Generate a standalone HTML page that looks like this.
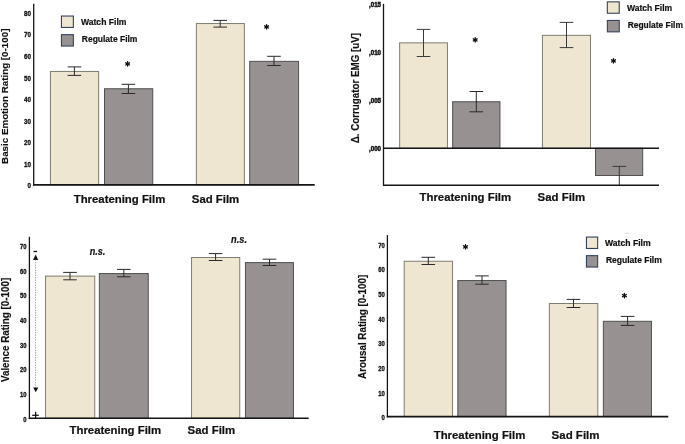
<!DOCTYPE html>
<html><head><meta charset="utf-8"><style>
html,body{margin:0;padding:0;background:#fff;}
body{width:685px;height:444px;overflow:hidden;}
svg{display:block;font-family:"Liberation Sans",sans-serif;-webkit-font-smoothing:antialiased;will-change:transform;filter:blur(0.35px);}
</style></head><body>
<svg width="685" height="444" viewBox="0 0 685 444">
<rect x="0" y="0" width="685" height="444" fill="#fff"/>
<text x="27.60" y="188.41" font-size="7.0" font-weight="bold" font-style="normal" fill="#111" text-anchor="start" textLength="3.50" lengthAdjust="spacingAndGlyphs" stroke="#111" stroke-width="0.3">0</text>
<text x="24.10" y="166.85" font-size="7.0" font-weight="bold" font-style="normal" fill="#111" text-anchor="start" textLength="7.00" lengthAdjust="spacingAndGlyphs" stroke="#111" stroke-width="0.3">10</text>
<text x="24.10" y="145.29" font-size="7.0" font-weight="bold" font-style="normal" fill="#111" text-anchor="start" textLength="7.00" lengthAdjust="spacingAndGlyphs" stroke="#111" stroke-width="0.3">20</text>
<text x="24.10" y="123.73" font-size="7.0" font-weight="bold" font-style="normal" fill="#111" text-anchor="start" textLength="7.00" lengthAdjust="spacingAndGlyphs" stroke="#111" stroke-width="0.3">30</text>
<text x="24.10" y="102.17" font-size="7.0" font-weight="bold" font-style="normal" fill="#111" text-anchor="start" textLength="7.00" lengthAdjust="spacingAndGlyphs" stroke="#111" stroke-width="0.3">40</text>
<text x="24.10" y="80.61" font-size="7.0" font-weight="bold" font-style="normal" fill="#111" text-anchor="start" textLength="7.00" lengthAdjust="spacingAndGlyphs" stroke="#111" stroke-width="0.3">50</text>
<text x="24.10" y="59.05" font-size="7.0" font-weight="bold" font-style="normal" fill="#111" text-anchor="start" textLength="7.00" lengthAdjust="spacingAndGlyphs" stroke="#111" stroke-width="0.3">60</text>
<text x="24.10" y="37.49" font-size="7.0" font-weight="bold" font-style="normal" fill="#111" text-anchor="start" textLength="7.00" lengthAdjust="spacingAndGlyphs" stroke="#111" stroke-width="0.3">70</text>
<text x="24.10" y="15.93" font-size="7.0" font-weight="bold" font-style="normal" fill="#111" text-anchor="start" textLength="7.00" lengthAdjust="spacingAndGlyphs" stroke="#111" stroke-width="0.3">80</text>
<line x1="33.70" y1="3.80" x2="33.70" y2="185.60" stroke="#151515" stroke-width="1.3"/>
<rect x="50.45" y="71.45" width="48.20" height="113.35" fill="#eee6d0" stroke="#7f7c70" stroke-width="1.0"/>
<rect x="104.50" y="88.75" width="48.25" height="96.05" fill="#979191" stroke="#505050" stroke-width="1.0"/>
<rect x="196.35" y="23.55" width="48.00" height="161.25" fill="#eee6d0" stroke="#7f7c70" stroke-width="1.0"/>
<rect x="249.70" y="61.35" width="48.85" height="123.45" fill="#979191" stroke="#505050" stroke-width="1.0"/>
<line x1="74.40" y1="66.90" x2="74.40" y2="75.40" stroke="#2a2a2a" stroke-width="1.0"/>
<line x1="67.60" y1="66.90" x2="81.20" y2="66.90" stroke="#2a2a2a" stroke-width="1.0"/>
<line x1="67.60" y1="75.40" x2="81.20" y2="75.40" stroke="#2a2a2a" stroke-width="1.0"/>
<line x1="128.40" y1="84.30" x2="128.40" y2="93.50" stroke="#2a2a2a" stroke-width="1.0"/>
<line x1="121.60" y1="84.30" x2="135.20" y2="84.30" stroke="#2a2a2a" stroke-width="1.0"/>
<line x1="121.60" y1="93.50" x2="135.20" y2="93.50" stroke="#2a2a2a" stroke-width="1.0"/>
<line x1="220.20" y1="20.40" x2="220.20" y2="27.10" stroke="#2a2a2a" stroke-width="1.0"/>
<line x1="213.40" y1="20.40" x2="227.00" y2="20.40" stroke="#2a2a2a" stroke-width="1.0"/>
<line x1="213.40" y1="27.10" x2="227.00" y2="27.10" stroke="#2a2a2a" stroke-width="1.0"/>
<line x1="274.00" y1="56.30" x2="274.00" y2="65.50" stroke="#2a2a2a" stroke-width="1.0"/>
<line x1="267.20" y1="56.30" x2="280.80" y2="56.30" stroke="#2a2a2a" stroke-width="1.0"/>
<line x1="267.20" y1="65.50" x2="280.80" y2="65.50" stroke="#2a2a2a" stroke-width="1.0"/>
<line x1="33.00" y1="184.80" x2="314.70" y2="184.80" stroke="#151515" stroke-width="1.7"/>
<line x1="127.60" y1="61.70" x2="127.60" y2="66.10" stroke="#111" stroke-width="1.35" stroke-linecap="round"/>
<line x1="125.69" y1="62.80" x2="129.51" y2="65.00" stroke="#111" stroke-width="1.35" stroke-linecap="round"/>
<line x1="125.69" y1="65.00" x2="129.51" y2="62.80" stroke="#111" stroke-width="1.35" stroke-linecap="round"/>
<line x1="266.60" y1="24.70" x2="266.60" y2="29.10" stroke="#111" stroke-width="1.35" stroke-linecap="round"/>
<line x1="264.69" y1="25.80" x2="268.51" y2="28.00" stroke="#111" stroke-width="1.35" stroke-linecap="round"/>
<line x1="264.69" y1="28.00" x2="268.51" y2="25.80" stroke="#111" stroke-width="1.35" stroke-linecap="round"/>
<rect x="61.45" y="16.05" width="11.90" height="11.40" fill="#eee6d0" stroke="#394160" stroke-width="1.1"/>
<rect x="61.45" y="34.65" width="11.90" height="11.40" fill="#979191" stroke="#394160" stroke-width="1.1"/>
<text x="80.90" y="24.80" font-size="8.5" font-weight="bold" font-style="normal" fill="#111" text-anchor="start" textLength="45.60" lengthAdjust="spacingAndGlyphs" stroke="#111" stroke-width="0.2">Watch Film</text>
<text x="81.80" y="42.30" font-size="8.5" font-weight="bold" font-style="normal" fill="#111" text-anchor="start" textLength="55.60" lengthAdjust="spacingAndGlyphs" stroke="#111" stroke-width="0.2">Regulate Film</text>
<text x="73.70" y="203.40" font-size="11.3" font-weight="bold" font-style="normal" fill="#111" text-anchor="start" textLength="91.60" lengthAdjust="spacingAndGlyphs" stroke="#111" stroke-width="0.2">Threatening Film</text>
<text x="191.80" y="203.40" font-size="11.3" font-weight="bold" font-style="normal" fill="#111" text-anchor="start" textLength="47.40" lengthAdjust="spacingAndGlyphs" stroke="#111" stroke-width="0.2">Sad Film</text>
<text transform="translate(8.30,163.90) rotate(-90)" x="0" y="0" font-size="9.9" font-weight="bold" fill="#111" stroke="#111" stroke-width="0.15" textLength="135.30" lengthAdjust="spacingAndGlyphs">Basic Emotion Rating [0-100]</text>
<text x="369.00" y="151.36" font-size="6.3" font-weight="bold" font-style="normal" fill="#111" text-anchor="start" textLength="12.00" lengthAdjust="spacingAndGlyphs" stroke="#111" stroke-width="0.45">,000</text>
<text x="369.00" y="103.16" font-size="6.3" font-weight="bold" font-style="normal" fill="#111" text-anchor="start" textLength="12.00" lengthAdjust="spacingAndGlyphs" stroke="#111" stroke-width="0.45">,005</text>
<text x="369.00" y="54.96" font-size="6.3" font-weight="bold" font-style="normal" fill="#111" text-anchor="start" textLength="12.00" lengthAdjust="spacingAndGlyphs" stroke="#111" stroke-width="0.45">,010</text>
<text x="369.00" y="6.76" font-size="6.3" font-weight="bold" font-style="normal" fill="#111" text-anchor="start" textLength="12.00" lengthAdjust="spacingAndGlyphs" stroke="#111" stroke-width="0.45">,015</text>
<line x1="383.50" y1="3.80" x2="383.50" y2="185.90" stroke="#151515" stroke-width="1.3"/>
<rect x="399.65" y="42.85" width="47.80" height="105.45" fill="#eee6d0" stroke="#7f7c70" stroke-width="1.0"/>
<rect x="452.65" y="101.75" width="47.30" height="46.55" fill="#979191" stroke="#505050" stroke-width="1.0"/>
<rect x="542.45" y="35.35" width="48.05" height="112.95" fill="#eee6d0" stroke="#7f7c70" stroke-width="1.0"/>
<rect x="595.5" y="148.30" width="47.2" height="27.20" fill="#979191" stroke="#505050" stroke-width="1"/>
<line x1="423.50" y1="29.40" x2="423.50" y2="56.50" stroke="#3a3a3a" stroke-width="1.0"/>
<line x1="416.70" y1="29.40" x2="430.30" y2="29.40" stroke="#3a3a3a" stroke-width="1.0"/>
<line x1="416.70" y1="56.50" x2="430.30" y2="56.50" stroke="#3a3a3a" stroke-width="1.0"/>
<line x1="476.30" y1="91.50" x2="476.30" y2="111.80" stroke="#2a2a2a" stroke-width="1.0"/>
<line x1="469.50" y1="91.50" x2="483.10" y2="91.50" stroke="#2a2a2a" stroke-width="1.0"/>
<line x1="469.50" y1="111.80" x2="483.10" y2="111.80" stroke="#2a2a2a" stroke-width="1.0"/>
<line x1="566.50" y1="22.40" x2="566.50" y2="47.60" stroke="#3a3a3a" stroke-width="1.0"/>
<line x1="559.70" y1="22.40" x2="573.30" y2="22.40" stroke="#3a3a3a" stroke-width="1.0"/>
<line x1="559.70" y1="47.60" x2="573.30" y2="47.60" stroke="#3a3a3a" stroke-width="1.0"/>
<line x1="619.30" y1="166.40" x2="619.30" y2="185.20" stroke="#3a3a3a" stroke-width="1.0"/>
<line x1="612.50" y1="166.40" x2="626.10" y2="166.40" stroke="#3a3a3a" stroke-width="1.0"/>
<line x1="383.00" y1="148.30" x2="659.00" y2="148.30" stroke="#151515" stroke-width="1.6"/>
<line x1="383.00" y1="185.30" x2="659.00" y2="185.30" stroke="#151515" stroke-width="1.5"/>
<line x1="475.20" y1="37.70" x2="475.20" y2="42.10" stroke="#111" stroke-width="1.35" stroke-linecap="round"/>
<line x1="473.29" y1="38.80" x2="477.11" y2="41.00" stroke="#111" stroke-width="1.35" stroke-linecap="round"/>
<line x1="473.29" y1="41.00" x2="477.11" y2="38.80" stroke="#111" stroke-width="1.35" stroke-linecap="round"/>
<line x1="613.50" y1="58.70" x2="613.50" y2="63.10" stroke="#111" stroke-width="1.35" stroke-linecap="round"/>
<line x1="611.59" y1="59.80" x2="615.41" y2="62.00" stroke="#111" stroke-width="1.35" stroke-linecap="round"/>
<line x1="611.59" y1="62.00" x2="615.41" y2="59.80" stroke="#111" stroke-width="1.35" stroke-linecap="round"/>
<rect x="607.35" y="1.85" width="11.90" height="11.40" fill="#eee6d0" stroke="#394160" stroke-width="1.1"/>
<rect x="607.35" y="20.45" width="11.90" height="11.40" fill="#979191" stroke="#394160" stroke-width="1.1"/>
<text x="626.90" y="10.60" font-size="8.5" font-weight="bold" font-style="normal" fill="#111" text-anchor="start" textLength="45.30" lengthAdjust="spacingAndGlyphs" stroke="#111" stroke-width="0.2">Watch Film</text>
<text x="627.70" y="27.60" font-size="8.5" font-weight="bold" font-style="normal" fill="#111" text-anchor="start" textLength="55.20" lengthAdjust="spacingAndGlyphs" stroke="#111" stroke-width="0.2">Regulate Film</text>
<text x="419.50" y="201.00" font-size="11.3" font-weight="bold" font-style="normal" fill="#111" text-anchor="start" textLength="91.60" lengthAdjust="spacingAndGlyphs" stroke="#111" stroke-width="0.2">Threatening Film</text>
<text x="537.60" y="201.00" font-size="11.3" font-weight="bold" font-style="normal" fill="#111" text-anchor="start" textLength="47.60" lengthAdjust="spacingAndGlyphs" stroke="#111" stroke-width="0.2">Sad Film</text>
<text transform="translate(358.80,143.30) rotate(-90)" x="0" y="0" font-size="10.1" font-weight="bold" fill="#111" stroke="#111" stroke-width="0.15" textLength="110.30" lengthAdjust="spacingAndGlyphs">Δ. Corrugator EMG [uV]</text>
<text x="23.15" y="421.83" font-size="6.8" font-weight="bold" font-style="normal" fill="#111" text-anchor="start" textLength="3.25" lengthAdjust="spacingAndGlyphs" stroke="#111" stroke-width="0.3">0</text>
<text x="19.90" y="397.13" font-size="6.8" font-weight="bold" font-style="normal" fill="#111" text-anchor="start" textLength="6.50" lengthAdjust="spacingAndGlyphs" stroke="#111" stroke-width="0.3">10</text>
<text x="19.90" y="372.43" font-size="6.8" font-weight="bold" font-style="normal" fill="#111" text-anchor="start" textLength="6.50" lengthAdjust="spacingAndGlyphs" stroke="#111" stroke-width="0.3">20</text>
<text x="19.90" y="347.73" font-size="6.8" font-weight="bold" font-style="normal" fill="#111" text-anchor="start" textLength="6.50" lengthAdjust="spacingAndGlyphs" stroke="#111" stroke-width="0.3">30</text>
<text x="19.90" y="323.03" font-size="6.8" font-weight="bold" font-style="normal" fill="#111" text-anchor="start" textLength="6.50" lengthAdjust="spacingAndGlyphs" stroke="#111" stroke-width="0.3">40</text>
<text x="19.90" y="298.33" font-size="6.8" font-weight="bold" font-style="normal" fill="#111" text-anchor="start" textLength="6.50" lengthAdjust="spacingAndGlyphs" stroke="#111" stroke-width="0.3">50</text>
<text x="19.90" y="273.63" font-size="6.8" font-weight="bold" font-style="normal" fill="#111" text-anchor="start" textLength="6.50" lengthAdjust="spacingAndGlyphs" stroke="#111" stroke-width="0.3">60</text>
<text x="19.90" y="248.93" font-size="6.8" font-weight="bold" font-style="normal" fill="#111" text-anchor="start" textLength="6.50" lengthAdjust="spacingAndGlyphs" stroke="#111" stroke-width="0.3">70</text>
<line x1="29.40" y1="236.80" x2="29.40" y2="419.00" stroke="#151515" stroke-width="1.3"/>
<rect x="45.55" y="276.10" width="49.20" height="142.10" fill="#eee6d0" stroke="#7f7c70" stroke-width="1.0"/>
<rect x="99.35" y="273.55" width="48.90" height="144.65" fill="#979191" stroke="#505050" stroke-width="1.0"/>
<rect x="191.55" y="257.50" width="48.20" height="160.70" fill="#eee6d0" stroke="#7f7c70" stroke-width="1.0"/>
<rect x="245.45" y="262.60" width="48.00" height="155.60" fill="#979191" stroke="#505050" stroke-width="1.0"/>
<line x1="70.00" y1="272.40" x2="70.00" y2="279.80" stroke="#2a2a2a" stroke-width="1.0"/>
<line x1="63.20" y1="272.40" x2="76.80" y2="272.40" stroke="#2a2a2a" stroke-width="1.0"/>
<line x1="63.20" y1="279.80" x2="76.80" y2="279.80" stroke="#2a2a2a" stroke-width="1.0"/>
<line x1="123.80" y1="269.40" x2="123.80" y2="276.80" stroke="#2a2a2a" stroke-width="1.0"/>
<line x1="117.00" y1="269.40" x2="130.60" y2="269.40" stroke="#2a2a2a" stroke-width="1.0"/>
<line x1="117.00" y1="276.80" x2="130.60" y2="276.80" stroke="#2a2a2a" stroke-width="1.0"/>
<line x1="215.60" y1="253.60" x2="215.60" y2="260.50" stroke="#2a2a2a" stroke-width="1.0"/>
<line x1="208.80" y1="253.60" x2="222.40" y2="253.60" stroke="#2a2a2a" stroke-width="1.0"/>
<line x1="208.80" y1="260.50" x2="222.40" y2="260.50" stroke="#2a2a2a" stroke-width="1.0"/>
<line x1="269.50" y1="259.20" x2="269.50" y2="265.50" stroke="#2a2a2a" stroke-width="1.0"/>
<line x1="262.70" y1="259.20" x2="276.30" y2="259.20" stroke="#2a2a2a" stroke-width="1.0"/>
<line x1="262.70" y1="265.50" x2="276.30" y2="265.50" stroke="#2a2a2a" stroke-width="1.0"/>
<line x1="28.80" y1="418.20" x2="308.70" y2="418.20" stroke="#151515" stroke-width="1.6"/>
<text x="89.70" y="254.50" font-size="10.0" font-weight="bold" font-style="italic" fill="#111" text-anchor="start" textLength="15.50" lengthAdjust="spacingAndGlyphs" stroke="#111" stroke-width="0.2">n.s.</text>
<text x="231.10" y="242.50" font-size="10.0" font-weight="bold" font-style="italic" fill="#111" text-anchor="start" textLength="15.90" lengthAdjust="spacingAndGlyphs" stroke="#111" stroke-width="0.2">n.s.</text>
<line x1="33.50" y1="251.50" x2="37.10" y2="251.50" stroke="#111" stroke-width="1.3"/>
<polygon points="35.65,254.5 33.0,259.9 38.3,259.9" fill="#111"/>
<line x1="35.55" y1="259.6" x2="35.55" y2="387.8" stroke="#8f8f8f" stroke-width="0.9" stroke-dasharray="1.25 1.25"/>
<polygon points="33.2,387.5 38.3,387.5 35.75,392.3" fill="#111"/>
<line x1="32.20" y1="415.30" x2="38.80" y2="415.30" stroke="#111" stroke-width="1.25"/>
<line x1="35.60" y1="411.90" x2="35.60" y2="418.20" stroke="#111" stroke-width="1.25"/>
<text x="69.50" y="433.50" font-size="11.3" font-weight="bold" font-style="normal" fill="#111" text-anchor="start" textLength="91.60" lengthAdjust="spacingAndGlyphs" stroke="#111" stroke-width="0.2">Threatening Film</text>
<text x="187.60" y="433.50" font-size="11.3" font-weight="bold" font-style="normal" fill="#111" text-anchor="start" textLength="47.60" lengthAdjust="spacingAndGlyphs" stroke="#111" stroke-width="0.2">Sad Film</text>
<text transform="translate(8.80,382.10) rotate(-90)" x="0" y="0" font-size="10.4" font-weight="bold" fill="#111" stroke="#111" stroke-width="0.15" textLength="104.40" lengthAdjust="spacingAndGlyphs">Valence Rating [0-100]</text>
<text x="381.60" y="420.46" font-size="7.0" font-weight="bold" font-style="normal" fill="#111" text-anchor="start" textLength="3.30" lengthAdjust="spacingAndGlyphs" stroke="#111" stroke-width="0.3">0</text>
<text x="378.30" y="395.76" font-size="7.0" font-weight="bold" font-style="normal" fill="#111" text-anchor="start" textLength="6.60" lengthAdjust="spacingAndGlyphs" stroke="#111" stroke-width="0.3">10</text>
<text x="378.30" y="371.06" font-size="7.0" font-weight="bold" font-style="normal" fill="#111" text-anchor="start" textLength="6.60" lengthAdjust="spacingAndGlyphs" stroke="#111" stroke-width="0.3">20</text>
<text x="378.30" y="346.36" font-size="7.0" font-weight="bold" font-style="normal" fill="#111" text-anchor="start" textLength="6.60" lengthAdjust="spacingAndGlyphs" stroke="#111" stroke-width="0.3">30</text>
<text x="378.30" y="321.66" font-size="7.0" font-weight="bold" font-style="normal" fill="#111" text-anchor="start" textLength="6.60" lengthAdjust="spacingAndGlyphs" stroke="#111" stroke-width="0.3">40</text>
<text x="378.30" y="296.96" font-size="7.0" font-weight="bold" font-style="normal" fill="#111" text-anchor="start" textLength="6.60" lengthAdjust="spacingAndGlyphs" stroke="#111" stroke-width="0.3">50</text>
<text x="378.30" y="272.26" font-size="7.0" font-weight="bold" font-style="normal" fill="#111" text-anchor="start" textLength="6.60" lengthAdjust="spacingAndGlyphs" stroke="#111" stroke-width="0.3">60</text>
<text x="378.30" y="247.56" font-size="7.0" font-weight="bold" font-style="normal" fill="#111" text-anchor="start" textLength="6.60" lengthAdjust="spacingAndGlyphs" stroke="#111" stroke-width="0.3">70</text>
<line x1="387.40" y1="235.10" x2="387.40" y2="417.40" stroke="#151515" stroke-width="1.3"/>
<rect x="404.20" y="261.25" width="48.35" height="155.35" fill="#eee6d0" stroke="#7f7c70" stroke-width="1.0"/>
<rect x="457.85" y="280.55" width="48.20" height="136.05" fill="#979191" stroke="#505050" stroke-width="1.0"/>
<rect x="549.35" y="303.50" width="48.45" height="113.10" fill="#eee6d0" stroke="#7f7c70" stroke-width="1.0"/>
<rect x="603.35" y="321.30" width="48.10" height="95.30" fill="#979191" stroke="#505050" stroke-width="1.0"/>
<line x1="428.30" y1="257.30" x2="428.30" y2="264.50" stroke="#2a2a2a" stroke-width="1.0"/>
<line x1="421.50" y1="257.30" x2="435.10" y2="257.30" stroke="#2a2a2a" stroke-width="1.0"/>
<line x1="421.50" y1="264.50" x2="435.10" y2="264.50" stroke="#2a2a2a" stroke-width="1.0"/>
<line x1="482.00" y1="275.90" x2="482.00" y2="284.20" stroke="#2a2a2a" stroke-width="1.0"/>
<line x1="475.20" y1="275.90" x2="488.80" y2="275.90" stroke="#2a2a2a" stroke-width="1.0"/>
<line x1="475.20" y1="284.20" x2="488.80" y2="284.20" stroke="#2a2a2a" stroke-width="1.0"/>
<line x1="573.50" y1="299.40" x2="573.50" y2="307.50" stroke="#2a2a2a" stroke-width="1.0"/>
<line x1="566.70" y1="299.40" x2="580.30" y2="299.40" stroke="#2a2a2a" stroke-width="1.0"/>
<line x1="566.70" y1="307.50" x2="580.30" y2="307.50" stroke="#2a2a2a" stroke-width="1.0"/>
<line x1="627.60" y1="316.40" x2="627.60" y2="325.40" stroke="#2a2a2a" stroke-width="1.0"/>
<line x1="620.80" y1="316.40" x2="634.40" y2="316.40" stroke="#2a2a2a" stroke-width="1.0"/>
<line x1="620.80" y1="325.40" x2="634.40" y2="325.40" stroke="#2a2a2a" stroke-width="1.0"/>
<line x1="386.80" y1="416.60" x2="668.30" y2="416.60" stroke="#151515" stroke-width="1.6"/>
<line x1="465.50" y1="244.70" x2="465.50" y2="249.10" stroke="#111" stroke-width="1.35" stroke-linecap="round"/>
<line x1="463.59" y1="245.80" x2="467.41" y2="248.00" stroke="#111" stroke-width="1.35" stroke-linecap="round"/>
<line x1="463.59" y1="248.00" x2="467.41" y2="245.80" stroke="#111" stroke-width="1.35" stroke-linecap="round"/>
<line x1="624.40" y1="293.40" x2="624.40" y2="297.80" stroke="#111" stroke-width="1.35" stroke-linecap="round"/>
<line x1="622.49" y1="294.50" x2="626.31" y2="296.70" stroke="#111" stroke-width="1.35" stroke-linecap="round"/>
<line x1="622.49" y1="296.70" x2="626.31" y2="294.50" stroke="#111" stroke-width="1.35" stroke-linecap="round"/>
<line x1="624.70" y1="233.30" x2="629.00" y2="233.30" stroke="#cfcfcf" stroke-width="0.8"/>
<rect x="586.45" y="237.05" width="11.20" height="11.40" fill="#eee6d0" stroke="#394160" stroke-width="1.1"/>
<rect x="586.45" y="255.65" width="11.20" height="11.40" fill="#979191" stroke="#394160" stroke-width="1.1"/>
<text x="605.00" y="245.70" font-size="8.5" font-weight="bold" font-style="normal" fill="#111" text-anchor="start" textLength="45.60" lengthAdjust="spacingAndGlyphs" stroke="#111" stroke-width="0.2">Watch Film</text>
<text x="605.90" y="262.60" font-size="8.5" font-weight="bold" font-style="normal" fill="#111" text-anchor="start" textLength="55.90" lengthAdjust="spacingAndGlyphs" stroke="#111" stroke-width="0.2">Regulate Film</text>
<text x="433.70" y="439.40" font-size="11.3" font-weight="bold" font-style="normal" fill="#111" text-anchor="start" textLength="91.60" lengthAdjust="spacingAndGlyphs" stroke="#111" stroke-width="0.2">Threatening Film</text>
<text x="551.60" y="439.40" font-size="11.3" font-weight="bold" font-style="normal" fill="#111" text-anchor="start" textLength="47.90" lengthAdjust="spacingAndGlyphs" stroke="#111" stroke-width="0.2">Sad Film</text>
<text transform="translate(366.20,378.90) rotate(-90)" x="0" y="0" font-size="10.4" font-weight="bold" fill="#111" stroke="#111" stroke-width="0.15" textLength="104.10" lengthAdjust="spacingAndGlyphs">Arousal Rating [0-100]</text>
</svg>
</body></html>
